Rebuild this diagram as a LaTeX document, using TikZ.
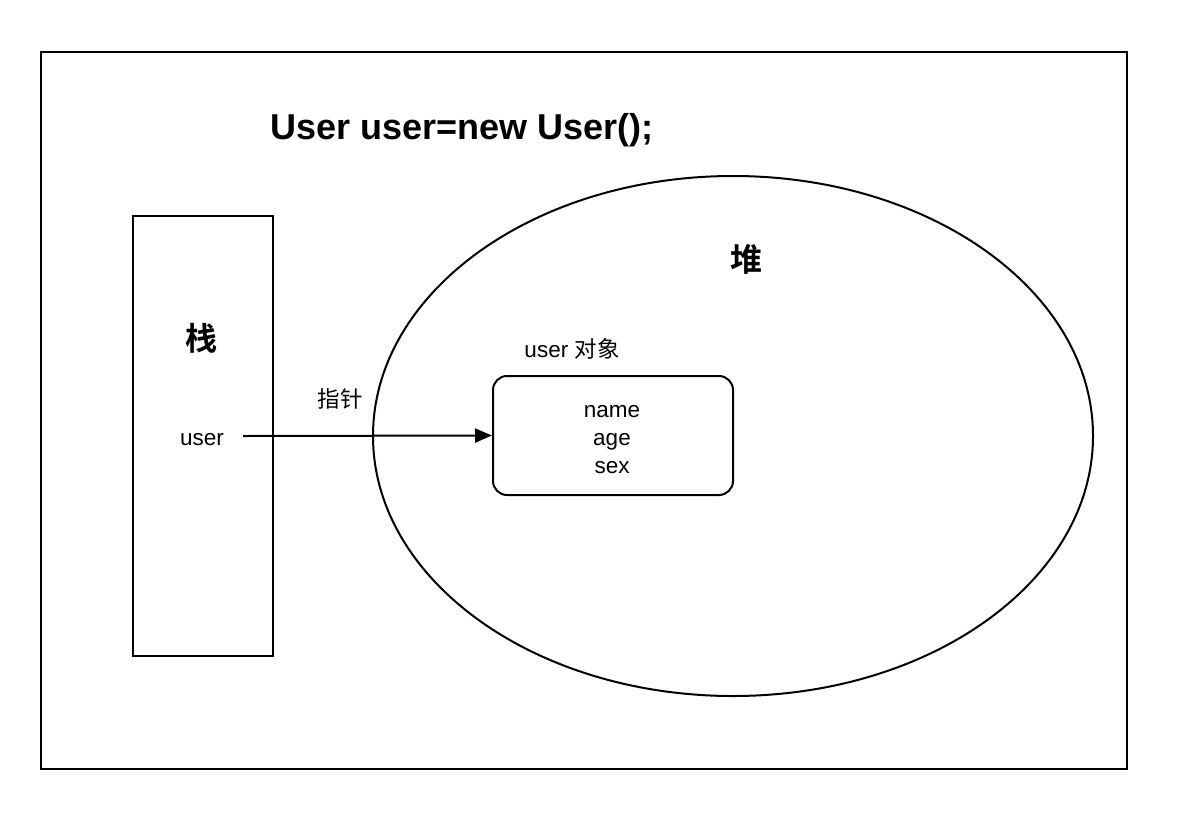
\documentclass[tikz,border=0pt]{standalone}
\usepackage{fontspec}
\setmainfont{Liberation Sans}
\newfontfamily\cjk{Noto Sans CJK SC}
\newfontfamily\cjkb{Noto Sans CJK SC Bold}
\usetikzlibrary{shapes.geometric,arrows.meta}
\begin{document}
\begin{tikzpicture}[x=1pt,y=-1pt,
  lw/.style={line width=2pt, draw=black},
  body/.style={font=\fontsize{22.5}{28}\selectfont, inner sep=0pt}]
\useasboundingbox (0,0) rectangle (1182,820);
\node[lw, rectangle, minimum width=1086pt, minimum height=717pt, inner sep=0pt] (frame) at (584,410.5) {};
\node[inner sep=0pt, font=\fontsize{36}{40}\selectfont\bfseries] (title) at (462,130) {User user=new User();};
\node[lw, rectangle, minimum width=140pt, minimum height=440pt, inner sep=0pt] (stack) at (203,436) {};
\node[inner sep=0pt, font=\fontsize{32}{36}\selectfont\cjkb] (stacklbl) at (201,338) {栈};
\node[body] (userv) at (202,440) {user};
\node[lw, ellipse, minimum width=720pt, minimum height=520pt, inner sep=0pt] (heap) at (733,436) {};
\node[inner sep=0pt, font=\fontsize{32}{36}\selectfont\cjkb] (heaplbl) at (746,259) {堆};
\node[body] (objlbl) at (572,349) {user {\cjk 对象}};
\node[lw, rectangle, rounded corners=14pt, minimum width=240pt, minimum height=119pt, inner sep=0pt] (obj) at (613,435.5) {};
\node[body, align=center] (fields) at (612,440) {name\\age\\sex};
\node[body] (ptr) at (340,399) {\cjk 指针};
\coordinate (start) at (243,436);
\draw[line width=2pt, -{Triangle[length=17pt,width=14pt]}] (start) -- (obj.west);
\end{tikzpicture}
\end{document}
